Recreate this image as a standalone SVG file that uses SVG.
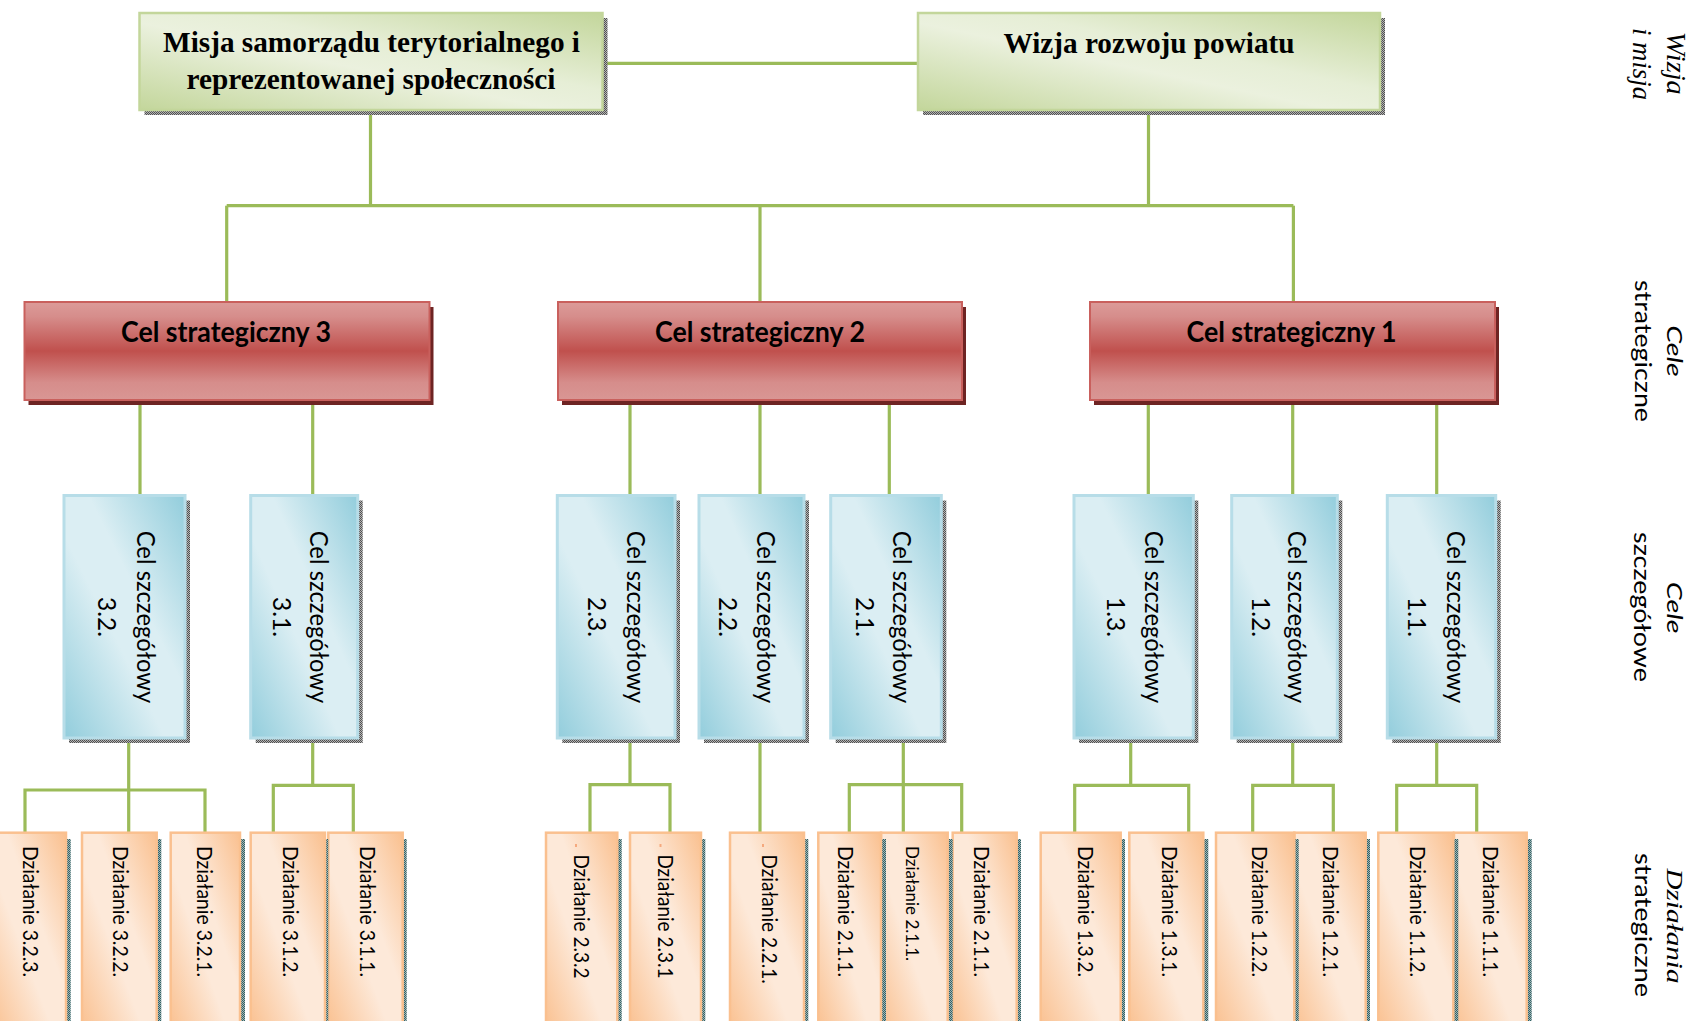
<svg xmlns="http://www.w3.org/2000/svg" width="1700" height="1021" viewBox="0 0 1700 1021">
<defs>
<linearGradient id="gGreen" x1="0" y1="1" x2="1" y2="0">
<stop offset="0" stop-color="#c3d69b"/><stop offset="0.45" stop-color="#ebf1de"/><stop offset="0.6" stop-color="#e6eed6"/><stop offset="1" stop-color="#c3d69b"/>
</linearGradient>
<linearGradient id="gBlue" x1="0" y1="1" x2="1" y2="0">
<stop offset="0" stop-color="#92cddc"/><stop offset="0.42" stop-color="#dbeef3"/><stop offset="0.6" stop-color="#dbeef3"/><stop offset="1" stop-color="#92cddc"/>
</linearGradient>
<linearGradient id="gOrange" x1="0" y1="1" x2="1" y2="0">
<stop offset="0" stop-color="#fac08f"/><stop offset="0.42" stop-color="#fde9d9"/><stop offset="0.6" stop-color="#fde9d9"/><stop offset="1" stop-color="#fac08f"/>
</linearGradient>
<linearGradient id="gRed" x1="0" y1="0" x2="0" y2="1">
<stop offset="0" stop-color="#dc9b99"/><stop offset="0.15" stop-color="#d68d8b"/><stop offset="0.5" stop-color="#c0504d"/><stop offset="0.82" stop-color="#d68d8b"/><stop offset="1" stop-color="#d99694"/>
</linearGradient>
<pattern id="pGray" width="2" height="2" patternUnits="userSpaceOnUse">
<rect width="2" height="2" fill="#b4b4b4"/><rect width="1" height="1" fill="#505050"/><rect x="1" y="1" width="1" height="1" fill="#505050"/>
</pattern>
<pattern id="pTeal" width="2" height="2" patternUnits="userSpaceOnUse">
<rect width="2" height="2" fill="#a3b3b3"/><rect width="1" height="1" fill="#2f6266"/><rect x="1" y="1" width="1" height="1" fill="#2f6266"/>
</pattern>
<style>
.con{fill:none;stroke:#9bbb59;stroke-width:3.2}
.sg{fill:url(#pGray)}
.st{fill:url(#pTeal)}
.sr{fill:#6e2423}
.bg{fill:url(#gGreen);stroke:#c3d69b;stroke-width:2.5}
.bb{fill:url(#gBlue);stroke:#b7dde8;stroke-width:3}
.bo{fill:url(#gOrange);stroke:#fac08f;stroke-width:2.5}
.br{fill:url(#gRed);stroke:#c9605d;stroke-width:2}
.tt{font-family:"Liberation Serif",serif;font-weight:bold;font-size:30px;fill:#000;text-anchor:middle}
.tr{font-family:Lato,"Liberation Sans",sans-serif;font-weight:bold;font-size:28px;fill:#000;text-anchor:middle}
.tb{font-family:Lato,"Liberation Sans",sans-serif;font-size:25.5px;fill:#000;text-anchor:middle}
.to{font-family:Lato,"Liberation Sans",sans-serif;font-size:21px;fill:#000}
.dot{fill:#f5a97e}
.ls{font-family:"Liberation Serif",serif;font-style:italic;fill:#000;text-anchor:middle}
.la{font-family:Lato,"Liberation Sans",sans-serif;fill:#000;text-anchor:middle}
</style>
</defs>
<rect width="1700" height="1021" fill="#ffffff"/>

<g id="connectors" class="con">
<path d="M603 63.3H918"/>
<path d="M370.5 110V205.7"/>
<path d="M1148.5 110V205.7"/>
<path d="M226.7 205.7H1293.4"/>
<path d="M226.7 205.7V302"/>
<path d="M760 205.7V302"/>
<path d="M1293.4 205.7V302"/>
<path d="M140 400V495.5"/>
<path d="M312.7 400V495.5"/>
<path d="M630 400V495.5"/>
<path d="M760 400V495.5"/>
<path d="M889.3 400V495.5"/>
<path d="M1148.3 400V495.5"/>
<path d="M1292.7 400V495.5"/>
<path d="M1436.7 400V495.5"/>
<path d="M128.7 738V832.7M25 832.7V790H205V832.7"/>
<path d="M312.7 738V785.4M273.3 832.7V785.4H353.3V832.7"/>
<path d="M630 738V784.7M590 832.7V784.7H670V832.7"/>
<path d="M760 738V832.7"/>
<path d="M903.3 738V832.7M849.3 832.7V784.7H961.7V832.7"/>
<path d="M1130.7 738V785.4M1074.7 832.7V785.4H1188.7V832.7"/>
<path d="M1292.7 738V785.4M1252.7 832.7V785.4H1333.3V832.7"/>
<path d="M1436.7 738V785.4M1396.7 832.7V785.4H1476.7V832.7"/>
</g>

<g id="misja">
<rect class="sg" x="144.5" y="18" width="463" height="97"/>
<rect class="bg" x="139.5" y="13" width="463" height="97"/>
<text class="tt" x="371.5" y="51.7" textLength="417" lengthAdjust="spacingAndGlyphs">Misja samorządu terytorialnego i</text>
<text class="tt" x="371" y="89.3" textLength="369" lengthAdjust="spacingAndGlyphs">reprezentowanej społeczności</text>
</g>
<g id="wizja">
<rect class="sg" x="923" y="18" width="462" height="97"/>
<rect class="bg" x="918" y="13" width="462" height="97"/>
<text class="tt" x="1149" y="52.7" textLength="291" lengthAdjust="spacingAndGlyphs">Wizja rozwoju powiatu</text>
</g>

<g id="cs3">
<rect class="sr" x="28.5" y="307" width="405" height="98"/>
<rect class="br" x="24.5" y="302" width="405" height="98"/>
<text class="tr" x="226" y="341.7" textLength="210" lengthAdjust="spacingAndGlyphs">Cel strategiczny 3</text>
</g>
<g id="cs2">
<rect class="sr" x="562" y="307" width="404" height="98"/>
<rect class="br" x="558" y="302" width="404" height="98"/>
<text class="tr" x="760" y="341.7" textLength="210" lengthAdjust="spacingAndGlyphs">Cel strategiczny 2</text>
</g>
<g id="cs1">
<rect class="sr" x="1094" y="307" width="405" height="98"/>
<rect class="br" x="1090" y="302" width="405" height="98"/>
<text class="tr" x="1291.5" y="341.7" textLength="210" lengthAdjust="spacingAndGlyphs">Cel strategiczny 1</text>
</g>

<g id="sz32">
<rect class="sg" x="69" y="500.5" width="121" height="242.5"/>
<rect class="bb" x="64" y="495.5" width="121" height="242.5"/>
<text class="tb" transform="translate(136.7 617) rotate(90)" textLength="172.6" lengthAdjust="spacingAndGlyphs">Cel szczegółowy</text>
<text class="tb" transform="translate(98.3 617) rotate(90)" textLength="40" lengthAdjust="spacingAndGlyphs">3.2.</text>
</g>
<g id="sz31">
<rect class="sg" x="255.7" y="500.5" width="107" height="242.5"/>
<rect class="bb" x="250.7" y="495.5" width="107" height="242.5"/>
<text class="tb" transform="translate(310 617) rotate(90)" textLength="172.6" lengthAdjust="spacingAndGlyphs">Cel szczegółowy</text>
<text class="tb" transform="translate(272.7 617) rotate(90)" textLength="40" lengthAdjust="spacingAndGlyphs">3.1.</text>
</g>
<g id="sz23">
<rect class="sg" x="562.3" y="500.5" width="117.7" height="242.5"/>
<rect class="bb" x="557.3" y="495.5" width="117.7" height="242.5"/>
<text class="tb" transform="translate(626.7 617) rotate(90)" textLength="172.6" lengthAdjust="spacingAndGlyphs">Cel szczegółowy</text>
<text class="tb" transform="translate(588.3 617) rotate(90)" textLength="40" lengthAdjust="spacingAndGlyphs">2.3.</text>
</g>
<g id="sz22">
<rect class="sg" x="704" y="500.5" width="105" height="242.5"/>
<rect class="bb" x="699" y="495.5" width="105" height="242.5"/>
<text class="tb" transform="translate(756.7 617) rotate(90)" textLength="172.6" lengthAdjust="spacingAndGlyphs">Cel szczegółowy</text>
<text class="tb" transform="translate(719.3 617) rotate(90)" textLength="40" lengthAdjust="spacingAndGlyphs">2.2.</text>
</g>
<g id="sz21">
<rect class="sg" x="835.7" y="500.5" width="110.6" height="242.5"/>
<rect class="bb" x="830.7" y="495.5" width="110.6" height="242.5"/>
<text class="tb" transform="translate(893.3 617) rotate(90)" textLength="172.6" lengthAdjust="spacingAndGlyphs">Cel szczegółowy</text>
<text class="tb" transform="translate(856 617) rotate(90)" textLength="40" lengthAdjust="spacingAndGlyphs">2.1.</text>
</g>
<g id="sz13">
<rect class="sg" x="1079" y="500.5" width="119.3" height="242.5"/>
<rect class="bb" x="1074" y="495.5" width="119.3" height="242.5"/>
<text class="tb" transform="translate(1145 617) rotate(90)" textLength="172.6" lengthAdjust="spacingAndGlyphs">Cel szczegółowy</text>
<text class="tb" transform="translate(1106.7 617) rotate(90)" textLength="40" lengthAdjust="spacingAndGlyphs">1.3.</text>
</g>
<g id="sz12">
<rect class="sg" x="1236.7" y="500.5" width="105.6" height="242.5"/>
<rect class="bb" x="1231.7" y="495.5" width="105.6" height="242.5"/>
<text class="tb" transform="translate(1288.3 617) rotate(90)" textLength="172.6" lengthAdjust="spacingAndGlyphs">Cel szczegółowy</text>
<text class="tb" transform="translate(1251.7 617) rotate(90)" textLength="40" lengthAdjust="spacingAndGlyphs">1.2.</text>
</g>
<g id="sz11">
<rect class="sg" x="1392.3" y="500.5" width="108.4" height="242.5"/>
<rect class="bb" x="1387.3" y="495.5" width="108.4" height="242.5"/>
<text class="tb" transform="translate(1446.7 617) rotate(90)" textLength="172.6" lengthAdjust="spacingAndGlyphs">Cel szczegółowy</text>
<text class="tb" transform="translate(1408.3 617) rotate(90)" textLength="40" lengthAdjust="spacingAndGlyphs">1.1.</text>
</g>

<g id="d111">
<rect class="st" x="1459" y="839" width="72.7" height="200"/>
<rect class="bo" x="1454" y="832.7" width="72.7" height="200"/>
<text class="to" transform="translate(1483.3 846) rotate(90)" textLength="131" lengthAdjust="spacingAndGlyphs">Działanie 1.1.1.</text>
</g>
<g id="d112">
<rect class="st" x="1453.3" y="839" width="5" height="200"/>
<rect class="bo" x="1378.3" y="832.7" width="75" height="200"/>
<text class="to" transform="translate(1410 846) rotate(90)" textLength="131" lengthAdjust="spacingAndGlyphs">Działanie 1.1.2.</text>
</g>
<g id="d121">
<rect class="st" x="1298.7" y="839" width="71.3" height="200"/>
<rect class="bo" x="1294.3" y="832.7" width="71.4" height="200"/>
<text class="to" transform="translate(1323.3 846) rotate(90)" textLength="131" lengthAdjust="spacingAndGlyphs">Działanie 1.2.1.</text>
</g>
<g id="d122">
<rect class="st" x="1294.3" y="839" width="4.4" height="200"/>
<rect class="bo" x="1216" y="832.7" width="78.3" height="200"/>
<text class="to" transform="translate(1251.7 846) rotate(90)" textLength="131" lengthAdjust="spacingAndGlyphs">Działanie 1.2.2.</text>
</g>
<g id="d131">
<rect class="st" x="1134.3" y="839" width="74" height="200"/>
<rect class="bo" x="1129.3" y="832.7" width="74" height="200"/>
<text class="to" transform="translate(1161.7 846) rotate(90)" textLength="131" lengthAdjust="spacingAndGlyphs">Działanie 1.3.1.</text>
</g>
<g id="d132">
<rect class="st" x="1045" y="839" width="80" height="200"/>
<rect class="bo" x="1040.7" y="832.7" width="80" height="200"/>
<text class="to" transform="translate(1078.3 846) rotate(90)" textLength="131" lengthAdjust="spacingAndGlyphs">Działanie 1.3.2.</text>
</g>
<g id="d211c">
<rect class="st" x="957" y="839" width="64" height="200"/>
<rect class="bo" x="952.7" y="832.7" width="64" height="200"/>
<text class="to" transform="translate(974 846) rotate(90)" textLength="131" lengthAdjust="spacingAndGlyphs">Działanie 2.1.1.</text>
</g>
<g id="d211b">
<rect class="st" x="886" y="839" width="66.7" height="200"/>
<rect class="bo" x="881" y="832.7" width="66.7" height="200"/>
<text class="to" transform="translate(906 846) rotate(90)" style="font-size:17px" textLength="115" lengthAdjust="spacingAndGlyphs">Działanie 2.1.1.</text>
</g>
<g id="d211a">
<rect class="st" x="881" y="839" width="5" height="200"/>
<rect class="bo" x="818.3" y="832.7" width="62.7" height="200"/>
<text class="to" transform="translate(838.3 846) rotate(90)" textLength="131" lengthAdjust="spacingAndGlyphs">Działanie 2.1.1.</text>
</g>
<g id="d221">
<rect class="st" x="734.3" y="839" width="74" height="200"/>
<rect class="bo" x="730" y="832.7" width="74" height="200"/>
<rect class="dot" x="762" y="844" width="2" height="3"/>
<text class="to" transform="translate(761.7 854.4) rotate(90)" textLength="129.4" lengthAdjust="spacingAndGlyphs">Działanie 2.2.1.</text>
</g>
<g id="d231">
<rect class="st" x="634.3" y="839" width="71" height="200"/>
<rect class="bo" x="630" y="832.7" width="71" height="200"/>
<rect class="dot" x="659.5" y="844" width="2" height="3"/>
<text class="to" transform="translate(658 854.4) rotate(90)" textLength="124" lengthAdjust="spacingAndGlyphs">Działanie 2.3.1</text>
</g>
<g id="d232">
<rect class="st" x="550.5" y="839" width="71.2" height="200"/>
<rect class="bo" x="546" y="832.7" width="71.3" height="200"/>
<rect class="dot" x="575" y="844" width="2" height="3"/>
<text class="to" transform="translate(574 854.4) rotate(90)" textLength="124" lengthAdjust="spacingAndGlyphs">Działanie 2.3.2</text>
</g>
<g id="d311">
<rect class="st" x="332.7" y="839" width="74" height="200"/>
<rect class="bo" x="328.3" y="832.7" width="74.4" height="200"/>
<text class="to" transform="translate(360 846) rotate(90)" textLength="131" lengthAdjust="spacingAndGlyphs">Działanie 3.1.1.</text>
</g>
<g id="d312">
<rect class="st" x="325" y="839" width="3.3" height="200"/>
<rect class="bo" x="250.7" y="832.7" width="74.3" height="200"/>
<text class="to" transform="translate(282.7 846) rotate(90)" textLength="131" lengthAdjust="spacingAndGlyphs">Działanie 3.1.2.</text>
</g>
<g id="d321">
<rect class="st" x="175" y="839" width="70" height="200"/>
<rect class="bo" x="170.7" y="832.7" width="69.3" height="200"/>
<text class="to" transform="translate(196.7 846) rotate(90)" textLength="131" lengthAdjust="spacingAndGlyphs">Działanie 3.2.1.</text>
</g>
<g id="d322">
<rect class="st" x="86.5" y="839" width="74.8" height="200"/>
<rect class="bo" x="82" y="832.7" width="74.7" height="200"/>
<text class="to" transform="translate(113.3 846) rotate(90)" textLength="131" lengthAdjust="spacingAndGlyphs">Działanie 3.2.2.</text>
</g>
<g id="d323">
<rect class="st" x="-4" y="839" width="74.7" height="200"/>
<rect class="bo" x="-8.6" y="832.7" width="74.6" height="200"/>
<text class="to" transform="translate(22.7 846) rotate(90)" textLength="131" lengthAdjust="spacingAndGlyphs">Działanie 3.2.3.</text>
</g>

<g id="labels">
<text class="ls" transform="translate(1667 63.3) rotate(90)" style="font-size:27px" textLength="63" lengthAdjust="spacingAndGlyphs">Wizja</text>
<text class="ls" transform="translate(1633 64) rotate(90)" style="font-size:27px" textLength="72" lengthAdjust="spacingAndGlyphs">i misja</text>
<text class="la" transform="translate(1667 351) rotate(90)" style="font-size:21px;font-style:italic" textLength="51.7" lengthAdjust="spacingAndGlyphs">Cele</text>
<text class="la" transform="translate(1635 351) rotate(90)" style="font-size:23px" textLength="142" lengthAdjust="spacingAndGlyphs">strategiczne</text>
<text class="la" transform="translate(1667 607.7) rotate(90)" style="font-size:21px;font-style:italic" textLength="51.8" lengthAdjust="spacingAndGlyphs">Cele</text>
<text class="la" transform="translate(1634 607) rotate(90)" style="font-size:23px" textLength="150" lengthAdjust="spacingAndGlyphs">szczegółowe</text>
<text class="ls" transform="translate(1667 926) rotate(90)" style="font-size:23px" textLength="115" lengthAdjust="spacingAndGlyphs">Działania</text>
<text class="la" transform="translate(1635 925) rotate(90)" style="font-size:23px" textLength="144" lengthAdjust="spacingAndGlyphs">strategiczne</text>
</g>
</svg>
